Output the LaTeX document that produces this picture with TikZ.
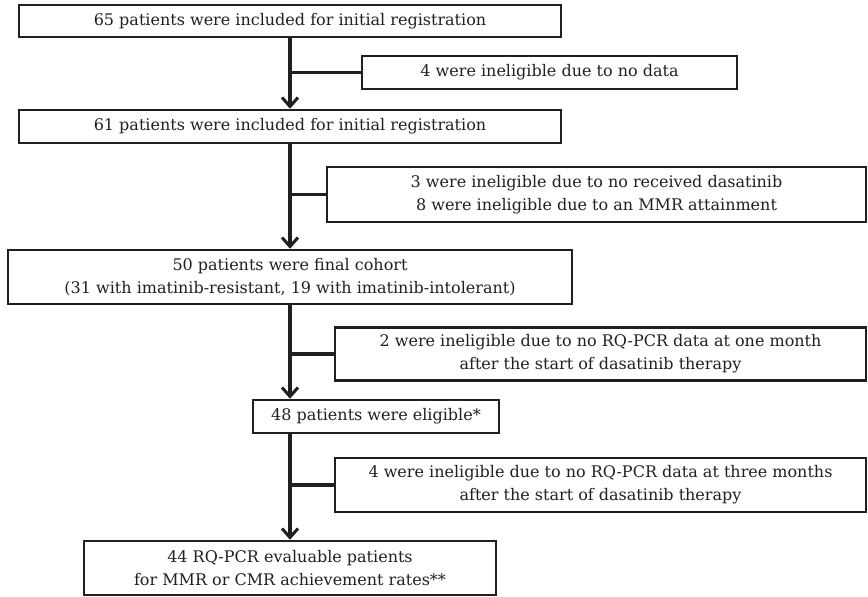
\documentclass[tikz,border=0pt]{standalone}
\usepackage{fontspec}
\setmainfont{DejaVu Serif}
\usetikzlibrary{arrows.meta,positioning}
\definecolor{inkgray}{RGB}{35,31,32}

\begin{document}
\begin{tikzpicture}[x=1pt,y=-1pt,>={Straight Barb[length=9pt,width=16pt,line width=3pt]}, every node/.style={font=\fontsize{16}{23}\selectfont}]
    \tikzset{stage/.style={draw=inkgray,line width=2.5pt,text=inkgray,align=center,inner sep=0pt}}
    \tikzset{flow/.style={draw=inkgray,line width=3.5pt}}
    \useasboundingbox (0,0) rectangle (868,597);

    % main stream of patients
    \node[stage,minimum width=542pt,minimum height=32pt] (reg) at (290,21) {65 patients were included for initial registration};
    \node[stage,minimum width=542pt,minimum height=33pt] (incl) at (290,126.5) {61 patients were included for initial registration};
    \node[stage,minimum width=564pt,minimum height=54pt] (cohort) at (290,277) {50 patients were final cohort\\(31 with imatinib-resistant, 19 with imatinib-intolerant)};
    \node[stage,minimum width=246pt,minimum height=33pt] (eligible) at (376,416.5) {48 patients were eligible*};
    \node[stage,minimum width=412pt,minimum height=54pt] (evaluable) at (290,568) {44 RQ-PCR evaluable patients\\for MMR or CMR achievement rates**};

    % excluded patients
    \node[stage,minimum width=375pt,minimum height=33pt] (nodata) at (549.5,72.5) {4 were ineligible due to no data};
    \node[stage,minimum width=539pt,minimum height=55pt] (nodasa) at (596.5,194.5) {3 were ineligible due to no received dasatinib\\8 were ineligible due to an MMR attainment};
    \node[stage,minimum width=531pt,minimum height=53pt] (onemonth) at (600.5,354) {2 were ineligible due to no RQ-PCR data at one month\\after the start of dasatinib therapy};
    \node[stage,minimum width=531pt,minimum height=54pt] (threemonth) at (600.5,485) {4 were ineligible due to no RQ-PCR data at three months\\after the start of dasatinib therapy};

    \coordinate (spine) at (290,0);

    % arrows down the spine
    \draw[flow,->] (reg.south -| spine) -- (incl.north -| spine);
    \draw[flow,->] (incl.south -| spine) -- (cohort.north -| spine);
    \draw[flow,->] (cohort.south -| spine) -- (eligible.north -| spine);
    \draw[flow,->] (eligible.south -| spine) -- (evaluable.north -| spine);

    % branches to the exclusions
    \draw[flow] (nodata.west) -- (nodata.west -| spine);
    \draw[flow] (nodasa.west) -- (nodasa.west -| spine);
    \draw[flow] (onemonth.west) -- (onemonth.west -| spine);
    \draw[flow] (threemonth.west) -- (threemonth.west -| spine);
\end{tikzpicture}
\end{document}
